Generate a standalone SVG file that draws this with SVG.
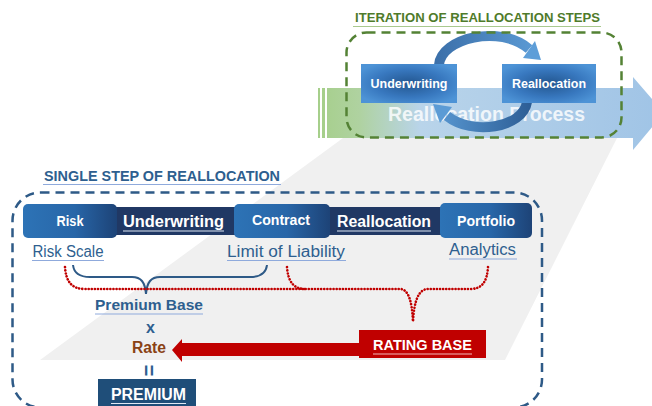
<svg xmlns="http://www.w3.org/2000/svg" width="652" height="406" viewBox="0 0 652 406">
<style>
text{font-family:"Liberation Sans",Arial,sans-serif}
.b{font-weight:bold}
.wt{fill:#ffffff}
.dotred{fill:none;stroke:#c00000;stroke-width:2.6;stroke-linecap:round;stroke-dasharray:0.1 3}
.brace{fill:none;stroke:#2e5a87;stroke-width:2}
.lbl{fill:#2e5f8f;font-size:16px}
.ul{stroke:#8faadc;stroke-width:1}
.wul{stroke:#dfe8f4;stroke-width:1}
</style>
<defs>
<linearGradient id="bigArrow" gradientUnits="userSpaceOnUse" x1="318" y1="0" x2="660" y2="0">
<stop offset="0" stop-color="#a6cf8b"/>
<stop offset="0.12" stop-color="#afd2a0"/>
<stop offset="0.3" stop-color="#b9d4ea"/>
<stop offset="1" stop-color="#a0c4e6"/>
</linearGradient>
<radialGradient id="topBox" cx="0.5" cy="0.5" r="0.6">
<stop offset="0" stop-color="#23568f"/>
<stop offset="0.6" stop-color="#3878bf"/>
<stop offset="1" stop-color="#4d93d6"/>
</radialGradient>
<linearGradient id="stepBox" x1="0" y1="0" x2="1" y2="0">
<stop offset="0" stop-color="#2d73b6"/>
<stop offset="0.55" stop-color="#2866a8"/>
<stop offset="1" stop-color="#1d4377"/>
</linearGradient>
<linearGradient id="arcTop" gradientUnits="userSpaceOnUse" x1="432" y1="0" x2="545" y2="0">
<stop offset="0" stop-color="#3a6ea8"/>
<stop offset="1" stop-color="#5e9ed8"/>
</linearGradient>
<linearGradient id="arcBot" gradientUnits="userSpaceOnUse" x1="430" y1="0" x2="530" y2="0">
<stop offset="0" stop-color="#5b9bd5"/>
<stop offset="1" stop-color="#2d5e96"/>
</linearGradient>
</defs>

<!-- background zoom trapezoid -->
<polygon points="343,138 617,138 505,360 40,360" fill="#f0f0f0"/>

<!-- big process arrow -->
<g id="process-arrow">
<rect x="318" y="88" width="2" height="50" fill="#a6cf8b"/>
<rect x="322" y="88" width="3" height="50" fill="#a6cf8b"/>
<polygon points="327,88 633,88 633,77 664,113 633,150 633,138 327,138" fill="url(#bigArrow)"/>
<text x="388" y="121" class="b" font-size="19.5" fill="#ffffff" fill-opacity="0.82" textLength="197" lengthAdjust="spacingAndGlyphs">Reallocation Process</text>
</g>

<!-- connectors -->
<g id="connectors">
<path d="M 439 65 C 441 38, 500 24, 529 49" fill="none" stroke="url(#arcTop)" stroke-width="10"/>
<polygon points="523,58 541,60 535,41" fill="#5e9ed8"/>
<path d="M 527 102 C 523 128, 472 136, 447 116" fill="none" stroke="url(#arcBot)" stroke-width="10"/>
<polygon points="452,107 433,104 440,123" fill="#5b9bd5"/>
<path class="brace" d="M 73 265 C 74 274, 80 277, 90 277 L 132 277 C 141 277, 145 282, 146 294 M 267 265 C 266 274, 260 277, 250 277 L 160 277 C 151 277, 147 282, 146 294"/>
<path class="dotred" d="M 65 267 C 66 282, 72 289, 85 289 L 400 289 C 408 289, 412 300, 413 322"/>
<path class="dotred" d="M 488 267 C 487 282, 482 289, 470 289 L 428 289 C 419 289, 414 300, 413 322"/>
<path class="dotred" d="M 287 267 C 288 282, 294 289, 305 289"/>
<polygon points="362,343 182,343 182,339 172,350 182,362 182,356 362,356" fill="#c00000"/>
</g>

<g id="iteration-title">
<text x="355" y="22" class="b" font-size="13.5" fill="#4f7b2a" textLength="245" lengthAdjust="spacingAndGlyphs">ITERATION OF REALLOCATION STEPS</text>
<line x1="353" y1="26.5" x2="601" y2="26.5" stroke="#a9c98f" stroke-width="1"/>
</g>
<g id="top-underwriting">
<rect x="361" y="64" width="96" height="39" fill="url(#topBox)"/>
<text x="409" y="88" class="b wt" font-size="12.5" text-anchor="middle" textLength="77" lengthAdjust="spacingAndGlyphs">Underwriting</text>
</g>
<g id="top-reallocation">
<rect x="502" y="64" width="94" height="39" fill="url(#topBox)"/>
<text x="549" y="88" class="b wt" font-size="12.5" text-anchor="middle" textLength="74" lengthAdjust="spacingAndGlyphs">Reallocation</text>
</g>
<rect x="346.5" y="32.5" width="275" height="105" rx="20" fill="none" stroke="#548235" stroke-width="2.5" stroke-dasharray="9 6"/>

<g id="single-step-title">
<text x="44" y="181" class="b" font-size="15" fill="#2e5f8f" textLength="236" lengthAdjust="spacingAndGlyphs">SINGLE STEP OF REALLOCATION</text>
<line x1="43" y1="184.5" x2="281" y2="184.5" class="ul"/>
</g>
<rect x="12.5" y="192.5" width="529.5" height="215" rx="28" fill="none" stroke="#2e5a87" stroke-width="2.5" stroke-dasharray="9 6"/>

<g id="band">
<rect x="100" y="207" width="350" height="28" fill="#203864"/>
<text x="173.5" y="227" class="b wt" font-size="16" text-anchor="middle" textLength="101" lengthAdjust="spacingAndGlyphs">Underwriting</text>
<line x1="123" y1="231" x2="224" y2="231" class="wul"/>
<text x="384" y="227" class="b wt" font-size="16" text-anchor="middle" textLength="94" lengthAdjust="spacingAndGlyphs">Reallocation</text>
<line x1="337" y1="231" x2="431" y2="231" class="wul"/>
</g>
<g id="risk">
<rect x="23" y="204" width="94" height="34" rx="5" fill="url(#stepBox)"/>
<text x="70" y="226" class="b wt" font-size="14" text-anchor="middle" textLength="27" lengthAdjust="spacingAndGlyphs">Risk</text>
</g>
<g id="contract">
<rect x="234" y="204" width="96" height="34" rx="5" fill="url(#stepBox)"/>
<text x="281" y="225" class="b wt" font-size="14" text-anchor="middle" textLength="58" lengthAdjust="spacingAndGlyphs">Contract</text>
</g>
<g id="portfolio">
<rect x="440" y="203" width="92" height="35" rx="5" fill="url(#stepBox)"/>
<text x="486" y="226" class="b wt" font-size="14" text-anchor="middle" textLength="58" lengthAdjust="spacingAndGlyphs">Portfolio</text>
</g>

<g id="risk-scale">
<text x="68" y="257" class="lbl" text-anchor="middle" textLength="71" lengthAdjust="spacingAndGlyphs">Risk Scale</text>
<line x1="32" y1="260.5" x2="104" y2="260.5" class="ul"/>
</g>
<g id="limit-of-liability">
<text x="286" y="257" class="lbl" text-anchor="middle" textLength="118" lengthAdjust="spacingAndGlyphs">Limit of Liability</text>
<line x1="227" y1="260.5" x2="346" y2="260.5" class="ul"/>
</g>
<g id="analytics">
<text x="482.5" y="255" class="lbl" text-anchor="middle" textLength="67" lengthAdjust="spacingAndGlyphs">Analytics</text>
<line x1="449" y1="259" x2="517" y2="259" class="ul"/>
</g>

<g id="premium-base">
<text x="149" y="310" class="b" font-size="15.5" fill="#2e5f8f" text-anchor="middle" textLength="108" lengthAdjust="spacingAndGlyphs">Premium Base</text>
<line x1="95" y1="314" x2="203" y2="314" class="ul"/>
</g>
<g id="times">
<text x="150.5" y="333" class="b" font-size="16" fill="#2e5f8f" text-anchor="middle">x</text>
</g>
<g id="rate">
<text x="149" y="353" class="b" font-size="16" fill="#8a4214" text-anchor="middle" textLength="34" lengthAdjust="spacingAndGlyphs">Rate</text>
</g>
<g id="equals">
<text x="0" y="0" class="b" font-size="20" fill="#2e5f8f" text-anchor="middle" transform="translate(141.5,370.5) rotate(90)">=</text>
</g>
<g id="premium">
<rect x="98" y="379" width="98" height="30" fill="#1f4e79"/>
<text x="148.5" y="400" class="b wt" font-size="16" text-anchor="middle" textLength="75" lengthAdjust="spacingAndGlyphs">PREMIUM</text>
<line x1="111" y1="403.5" x2="186" y2="403.5" class="wul"/>
</g>
<g id="rating-base">
<rect x="359" y="330" width="127" height="28" fill="#c00000"/>
<text x="422.5" y="350" class="b wt" font-size="15" text-anchor="middle" textLength="99" lengthAdjust="spacingAndGlyphs">RATING BASE</text>
<line x1="373" y1="354" x2="472" y2="354" stroke="#f2b8b8" stroke-width="1"/>
</g>
</svg>
